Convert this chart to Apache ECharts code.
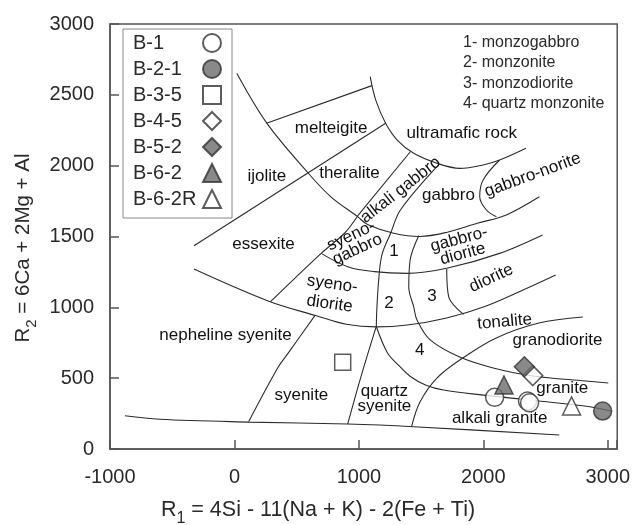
<!DOCTYPE html>
<html>
<head>
<meta charset="utf-8">
<title>R1-R2 classification diagram</title>
<script src="https://cdn.jsdelivr.net/npm/echarts@6/dist/echarts.min.js"></script>
<style>
  html, body { margin: 0; padding: 0; background: #fff; }
  #chart { width: 633px; height: 525px; }
</style>
</head>
<body>
<div id="chart"></div>
<script>
// sample points [R1, R2]
const b1 = [[2091, 365], [2355, 338], [2372, 326]];
const b21 = [[2959, 268]];
const b35 = [[870, 612]];
const b45 = [[2397, 518]];
const b52 = [[2330, 581]];
const b62 = [[2166, 452]];
const b62r = [[2709, 304]];

// field boundaries
const arcOuter = [[20, 2650], [260, 2300], [590, 1950], [775, 1780], [990, 1640], [1070, 1585],
  [1280, 1523], [1490, 1500], [1710, 1530], [1950, 1593], [2185, 1652], [2450, 1780]];
const arcUltramafic = [[1091, 2628], [1135, 2464], [1215, 2299], [1308, 2181], [1441, 2087],
  [1627, 2017], [1812, 1981], [1998, 2005], [2131, 2040], [2343, 2123]];
const lineMelteigite = [[258, 2300], [1105, 2565]];
const lineEssexite = [[-325, 1435], [1215, 2300]];
const lineTheralite = [[1415, 2100], [990, 1645]];
const lineAlkaliGabbro = [[1640, 2005], [1334, 1687], [1255, 1523], [1185, 1370], [1160, 1200],
  [1145, 1000], [1140, 865]];
const lineQtzSyenite = [[1140, 865], [1020, 520], [910, 176]];
const lineAlkaliGranite = [[1140, 865], [1229, 680], [1320, 590], [1414, 512], [1540, 450],
  [1680, 416], [2000, 380], [2370, 346], [2800, 305], [3030, 268]];
const lineNephSyenite = [[-325, 1270], [270, 1045], [660, 940], [900, 880], [1140, 862],
  [1390, 875], [1706, 925], [2001, 1002], [2319, 1122], [2582, 1228]];
const lineSyenodiorite = [[290, 1040], [697, 1381], [884, 1523], [990, 1645]];
const lineSyenogabbro = [[697, 1381], [910, 1287], [1123, 1252], [1388, 1240], [1706, 1276],
  [2131, 1381], [2476, 1511]];
const lineSyenite = [[645, 940], [432, 677], [353, 580], [114, 192]];
const lineBase = [[-880, 235], [-600, 210], [115, 190], [910, 176], [1440, 157], [2610, 99]];
const lineMonzo = [[1481, 1505], [1412, 1334], [1401, 1144], [1441, 1002], [1467, 911],
  [1573, 770], [1810, 649], [2080, 572], [2399, 515], [2821, 480], [3004, 466]];
const lineDiorite = [[1706, 1270], [1722, 1073], [1842, 950]];
const lineGranodiorite = [[1424, 160], [1491, 332], [1627, 501], [1834, 642], [2104, 784],
  [2447, 889], [2800, 932]];
const lineGabbroNorite = [[2131, 2040], [1998, 1899], [1971, 1781], [2025, 1687], [2105, 1640]];

const boundaries = [arcOuter, arcUltramafic, lineMelteigite, lineEssexite, lineTheralite,
  lineAlkaliGabbro, lineQtzSyenite, lineAlkaliGranite, lineNephSyenite, lineSyenodiorite,
  lineSyenogabbro, lineSyenite, lineBase, lineMonzo, lineDiorite, lineGranodiorite, lineGabbroNorite];

// field names [text, R1, R2]
const fieldNames = [
  ['melteigite', 777, 2264], ['ultramafic rock', 1826, 2229], ['ijolite', 260, 1922],
  ['theralite', 924, 1946], ['alkali gabbro', 1335, 1828], ['gabbro', 1720, 1793],
  ['gabbro-norite', 2397, 1934], ['essexite', 233, 1447], ['syeno-\ngabbro', 963, 1457],
  ['1', 1282, 1393], ['gabbro-\ndiorite', 1820, 1428], ['syeno-\ndiorite', 775, 1094],
  ['2', 1242, 1028], ['3', 1587, 1075], ['diorite', 2064, 1205], ['nepheline syenite', -72, 805],
  ['tonalite', 2171, 898], ['granodiorite', 2596, 769], ['4', 1489, 699], ['syenite', 538, 381],
  ['quartz\nsyenite', 1205, 353], ['granite', 2635, 428], ['alkali granite', 2131, 217]
];
const fieldAngles = { 'alkali gabbro': 38, 'gabbro-norite': 20, 'syeno-\ngabbro': 25,
  'gabbro-\ndiorite': 15, 'syeno-\ndiorite': -8, 'diorite': 25, 'tonalite': 5 };

const notes = ['1- monzogabbro', '2- monzonite', '3- monzodiorite', '4- quartz monzonite'];
const xTicks = [-1000, 0, 1000, 2000, 3000];
const yTicks = [0, 500, 1000, 1500, 2000, 2500, 3000];

const FONT = '"Liberation Sans", Arial, sans-serif';
const ink = '#2a2a2a';
const openStyle = { color: '#fff', borderColor: '#333', borderWidth: 1.5 };
const filledStyle = { color: '#6b6b6b', borderColor: '#333', borderWidth: 1.5 };

const samples = [
  { name: 'B-1', data: b1, symbol: 'circle', size: 18, style: openStyle },
  { name: 'B-2-1', data: b21, symbol: 'circle', size: 18, style: filledStyle },
  { name: 'B-3-5', data: b35, symbol: 'rect', size: 16, style: openStyle },
  { name: 'B-4-5', data: b45, symbol: 'diamond', size: 20, style: openStyle },
  { name: 'B-5-2', data: b52, symbol: 'diamond', size: 20, style: filledStyle },
  { name: 'B-6-2', data: b62, symbol: 'triangle', size: 18, style: filledStyle },
  { name: 'B-6-2R', data: b62r, symbol: 'triangle', size: 18, style: openStyle }
];

const chart = echarts.init(document.getElementById('chart'));

const series = [];
boundaries.forEach(function (pts) {
  series.push({
    type: 'line',
    data: pts,
    smooth: 0.35,
    showSymbol: false,
    silent: true,
    lineStyle: { color: '#2b2b2b', width: 1.1 },
    z: 2
  });
});

// field names as labels on invisible points
series.push({
  type: 'scatter',
  silent: true,
  symbolSize: 1,
  itemStyle: { color: '#fff', opacity: 1 },
  data: fieldNames.map(function (f) {
    return {
      name: f[0],
      value: [f[1], f[2]],
      label: {
        rotate: fieldAngles[f[0]] || 0,
        lineHeight: f[0] === 'syeno-\ndiorite' ? 20 : 15
      }
    };
  }),
  label: {
    show: true,
    position: 'inside',
    formatter: '{b}',
    fontSize: 17,
    fontFamily: FONT,
    color: '#111',
    opacity: 1,
    textBorderWidth: 0,
    textBorderColor: 'transparent'
  },
  z: 3
});

samples.forEach(function (s) {
  series.push({
    name: s.name,
    type: 'scatter',
    data: s.data,
    symbol: s.symbol,
    symbolSize: s.size,
    itemStyle: s.style,
    z: 5
  });
});

chart.setOption({
  animation: false,
  textStyle: { fontFamily: FONT },
  grid: {
    left: 110, top: 24, right: 11, bottom: 76,
    show: true, borderColor: '#555', borderWidth: 1.5
  },
  xAxis: {
    type: 'value',
    min: xTicks[0],
    max: 3076,
    interval: 1000,
    splitLine: { show: false },
    axisLine: { onZero: false, lineStyle: { color: '#555', width: 1.5 } },
    axisTick: { inside: true, length: 9, lineStyle: { color: '#555', width: 1.5 } },
    axisLabel: {
      fontSize: 20, color: ink, margin: 18,
      formatter: function (v) { return xTicks.indexOf(v) >= 0 ? String(v) : ''; }
    }
  },
  yAxis: {
    type: 'value',
    min: yTicks[0],
    max: yTicks[yTicks.length - 1],
    interval: 500,
    splitLine: { show: false },
    axisLine: { onZero: false, lineStyle: { color: '#555', width: 1.5 } },
    axisTick: { inside: true, length: 9, lineStyle: { color: '#555', width: 1.5 } },
    axisLabel: {
      fontSize: 20, color: ink, margin: 16,
      formatter: function (v) { return String(v); }
    }
  },
  legend: {
    data: samples.map(function (s) { return s.name; }),
    orient: 'vertical',
    align: 'right',
    left: 123,
    top: 29,
    padding: [4, 10, 9, 10],
    itemGap: 6,
    itemWidth: 18,
    itemHeight: 18,
    borderColor: '#888',
    borderWidth: 1,
    selectedMode: false,
    formatter: function (name) { return '{n|' + name + '}'; },
    textStyle: {
      color: ink,
      fontSize: 20,
      rich: { n: { width: 65, align: 'left', fontSize: 20, lineHeight: 20, color: ink } }
    }
  },
  graphic: [
    {
      type: 'text', left: 463, top: 32,
      style: { text: notes.join('\n'), fontSize: 16, fontFamily: FONT, lineHeight: 20.5, fill: ink }
    },
    {
      type: 'text', x: 318, y: 510,
      style: {
        text: 'R{s|1} = 4Si - 11(Na + K) - 2(Fe + Ti)',
        fontSize: 21.5, fontFamily: FONT, fill: ink, align: 'center', verticalAlign: 'middle',
        rich: { s: { fontSize: 16, fontFamily: FONT, fill: ink, padding: [18, 0, 0, 0] } }
      }
    },
    {
      type: 'text', x: 23, y: 248, rotation: Math.PI / 2,
      style: {
        text: 'R{s|2} = 6Ca + 2Mg + Al',
        fontSize: 20.5, fontFamily: FONT, fill: ink, align: 'center', verticalAlign: 'middle',
        rich: { s: { fontSize: 15, fontFamily: FONT, fill: ink, padding: [18, 0, 0, 0] } }
      }
    }
  ],
  series: series
});
</script>
</body>
</html>
